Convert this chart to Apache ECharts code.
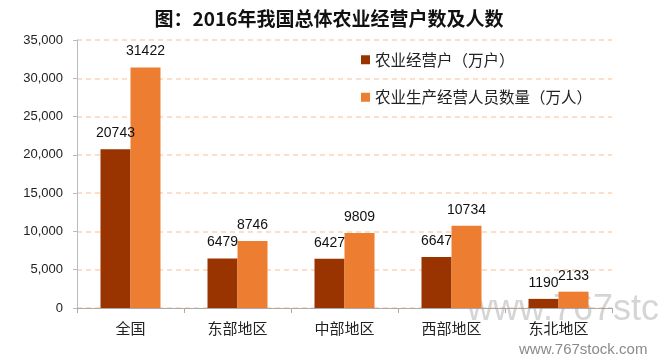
<!DOCTYPE html>
<html><head><meta charset="utf-8">
<script src="https://cdn.jsdelivr.net/npm/echarts@6/dist/echarts.min.js"></script>
<style>html,body{margin:0;padding:0;background:#fff}#c{width:658px;height:362px}</style>
</head><body><div id="c"></div>
<script>
var title = '图：2016年我国总体农业经营户数及人数';
var categories = ['全国', '东部地区', '中部地区', '西部地区', '东北地区'];
var seriesNames = ['农业经营户（万户）', '农业生产经营人员数量（万人）'];
var households = [20743, 6479, 6427, 6647, 1190];
var persons = [31422, 8746, 9809, 10734, 2133];

var font = '"Noto Sans CJK SC", "Microsoft YaHei", sans-serif';
var chart = echarts.init(document.getElementById('c'));
chart.setOption({
  animation: false,
  backgroundColor: '#fff',
  title: {
    text: title, left: 'center', top: 4,
    textStyle: {fontFamily: font, fontSize: 19, fontWeight: 'bold', color: '#111'}
  },
  legend: {
    orient: 'vertical', left: 356, top: 47, itemGap: 22,
    itemWidth: 9, itemHeight: 9, icon: 'rect',
    textStyle: {fontFamily: font, fontSize: 15.5, color: '#222'},
    data: seriesNames
  },
  grid: {left: 77, right: 46, top: 40, bottom: 54},
  xAxis: {
    type: 'category', data: categories,
    axisLine: {lineStyle: {color: '#aaa'}},
    axisTick: {show: true, length: 5, lineStyle: {color: '#aaa'}},
    axisLabel: {fontFamily: font, fontSize: 15, color: '#222', margin: 13}
  },
  yAxis: {
    type: 'value', min: 0, max: 35000, interval: 5000,
    axisLine: {show: true, lineStyle: {color: '#bbb'}},
    axisTick: {show: true, length: 4, lineStyle: {color: '#bbb'}},
    axisLabel: {fontFamily: 'Liberation Sans, sans-serif', fontSize: 13, color: '#222', margin: 14,
      formatter: function (v) { return v.toLocaleString('en-US'); }},
    splitLine: {lineStyle: {color: '#fbd3b8', type: [5, 4], width: 1.5}}
  },
  series: [
    {name: seriesNames[0], type: 'bar', data: households, barWidth: 30, barGap: '0%', z: 3,
     itemStyle: {color: '#993300'},
     label: {show: true, position: 'top', color: '#111', fontSize: 14, fontFamily: 'Liberation Sans, sans-serif', distance: 9}},
    {name: seriesNames[1], type: 'bar', data: persons, barWidth: 30, z: 3,
     itemStyle: {color: '#ed7d31'},
     label: {show: true, position: 'top', color: '#111', fontSize: 14, fontFamily: 'Liberation Sans, sans-serif', distance: 9}}
  ],
  graphic: [
    {type: 'text', left: 467, top: 292, z: 1, style: {text: 'www.767stc', fontSize: 36, fontFamily: 'Liberation Sans, sans-serif', fill: 'rgba(150,150,150,0.4)'}},
    {type: 'text', left: 519, top: 342, z: 5, style: {text: 'www.767stock.com', fontSize: 15, fontFamily: 'Liberation Sans, sans-serif', fill: '#8a8a8a'}}
  ]
});
</script></body></html>
